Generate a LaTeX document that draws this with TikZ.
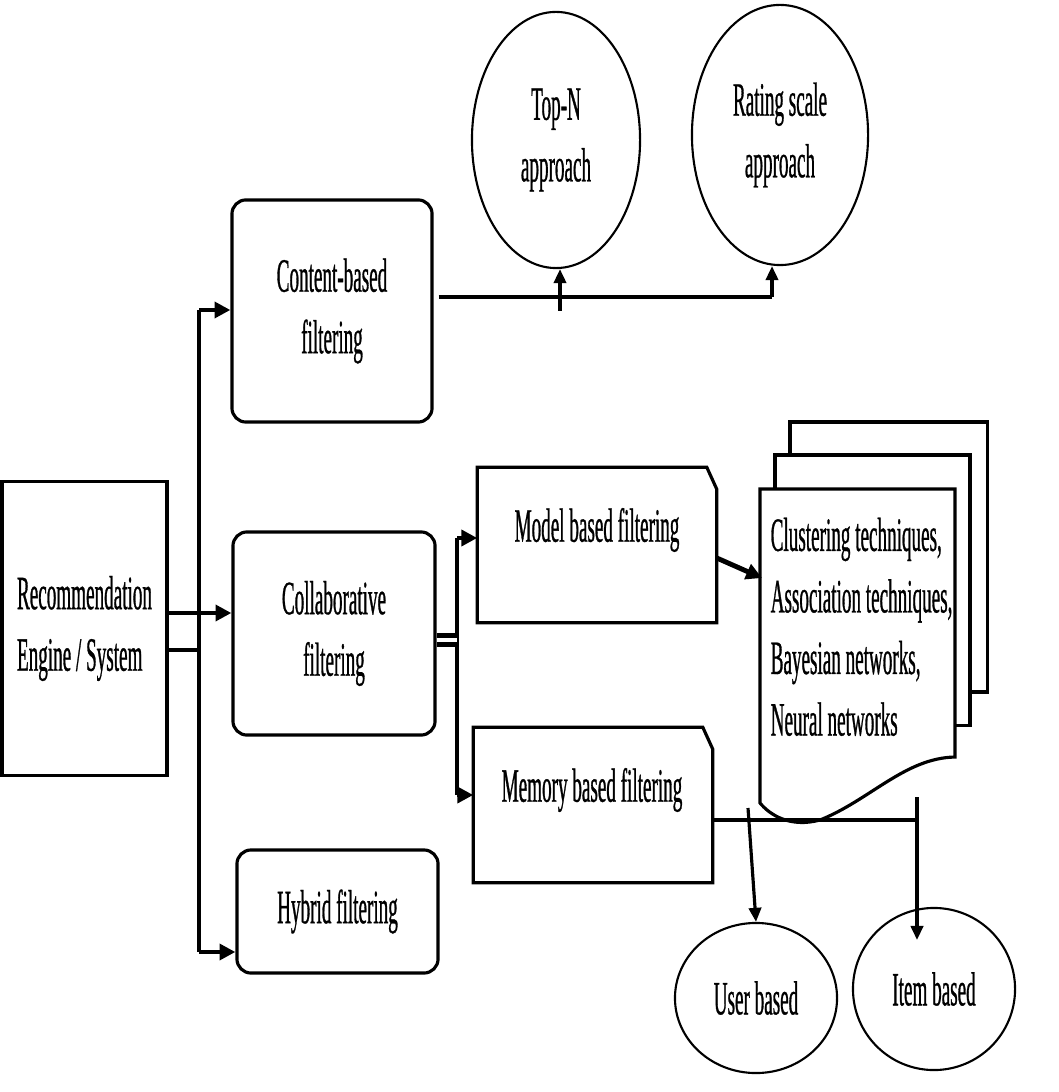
\documentclass[tikz,border=0pt]{standalone}
\usepackage{fontspec}
\setmainfont[FakeStretch=0.40,FakeBold=0.6]{Liberation Serif}
\usetikzlibrary{shapes.geometric,arrows.meta,calc}
\tikzset{
  box/.style={draw, line width=0.9pt, fill=white, inner sep=0pt},
  rbox/.style={box, rounded corners=4pt, align=center},
  cbox/.style={inner sep=0pt},
  oval/.style={draw, ellipse, line width=0.6pt, inner sep=0pt, align=center},
  conn/.style={line width=1.4pt},
  stem/.style={line width=0.9pt},
  arr/.style={-{Triangle[length=4.5pt,width=4.5pt]}},
  sarr/.style={-{Triangle[length=4pt,width=3.5pt]}}
}

\begin{document}
\begin{tikzpicture}[x=0.01cm,y=-0.01cm,
  every node/.append style={font=\fontsize{13.6}{17.5}\selectfont}]
\useasboundingbox (0,0) rectangle (1058,1092);

\node[box, minimum width=1.65cm, minimum height=2.93cm, align=left] (rec) at (84.5,628.5) {Recommendation\\Engine / System};
\node[rbox, minimum width=2cm, minimum height=2.22cm] (content) at (332,311) {Content-based\\filtering};
\node[rbox, minimum width=2.02cm, minimum height=2.03cm] (collab) at (334,633.5) {Collaborative\\filtering};
\node[rbox, minimum width=2.01cm, minimum height=1.23cm] (hybrid) at (337.5,911.5) {Hybrid filtering};

\node[cbox, minimum width=2.38cm, minimum height=1.54cm] (model) at (597,545) {};
\draw[line width=0.9pt] (model.north west) -- ($(model.north east)+(-10,0)$)
  -- ($(model.north east)+(0,22)$) -- (model.south east) -- (model.south west) -- cycle;
\node (modeltxt) at (597,530) {Model based filtering};
\node[cbox, minimum width=2.38cm, minimum height=1.54cm] (memory) at (593,805) {};
\draw[line width=0.9pt] (memory.north west) -- ($(memory.north east)+(-10,0)$)
  -- ($(memory.north east)+(0,22)$) -- (memory.south east) -- (memory.south west) -- cycle;
\node (memorytxt) at (592,790) {Memory based filtering};

\node[oval, minimum width=1.68cm, minimum height=2.56cm] (topn) at (556,140) {Top-N\\approach};
\node[oval, minimum width=1.76cm, minimum height=2.6cm] (rating) at (780,135) {Rating scale\\approach};
\node[oval, minimum width=1.62cm, minimum height=1.5cm] (user) at (756,998) {User based};
\node[oval, minimum width=1.62cm, minimum height=1.62cm] (item) at (934,989) {Item based};

% stacked pages
\node[box, minimum width=1.97cm, minimum height=2.7cm] (page3) at (888.5,557) {};
\node[box, minimum width=1.95cm, minimum height=2.7cm] (page2) at (872.5,590) {};
\draw[line width=0.9pt, fill=white] (760,489) -- (955,489) -- (955,757)
  .. controls (905,758) and (870,800) .. (820,820)
  .. controls (790,828) and (770,815) .. (760,803) -- cycle;
\node[anchor=north west, align=left, inner sep=0pt] (techs) at (770,517) {Clustering techniques,\\Association techniques,\\Bayesian networks,\\Neural networks};

\coordinate (sa) at (199,310);
\coordinate (sb) at (199,952);
\coordinate (sc) at (199,613);
\coordinate (sd) at (199,650);
\draw[conn] (sa) -- (sb);
\draw[conn,arr] (sa) -- (content.west |- sa);
\draw[conn,arr] (sb) -- (hybrid.west |- sb);
\draw[conn,arr] (rec.east |- sc) -- (collab.west |- sc);
\draw[conn] (rec.east |- sd) -- (sd);

\coordinate (ca) at (457,538);
\coordinate (cb) at (457,795);
\coordinate (cc) at (457,640);
\draw[conn] (ca) -- (cb);
\draw[conn,arr] (ca) -- (model.west |- ca);
\draw[conn,arr] (cb) -- (memory.west |- cb);
\draw[line width=1.3pt, double, double distance=1.1pt] (collab.east |- cc) -- (cc);

\coordinate (ta) at (560,297);
\coordinate (tb) at (772,297);
\draw[conn] ($(content.east |- ta)+(5,0)$) -- (tb);
\draw[stem,sarr] ($(ta)+(0,14)$) -- (ta |- topn.south);
\draw[stem,sarr] (tb) -- (tb |- rating.south);

\coordinate (da) at (762,578);
\draw[conn,arr] ($(model.east)+(0,13)$) -- (da);

\coordinate (ma) at (917,820);
\coordinate (ub) at (748,808);
\draw[conn] (memory.east |- ma) -- (ma);
\draw[stem,sarr] ($(ma)+(0,-23)$) -- ($(ma)+(0,120)$);
\draw[stem,sarr] (ub) -- (user.north);
\end{tikzpicture}
\end{document}
